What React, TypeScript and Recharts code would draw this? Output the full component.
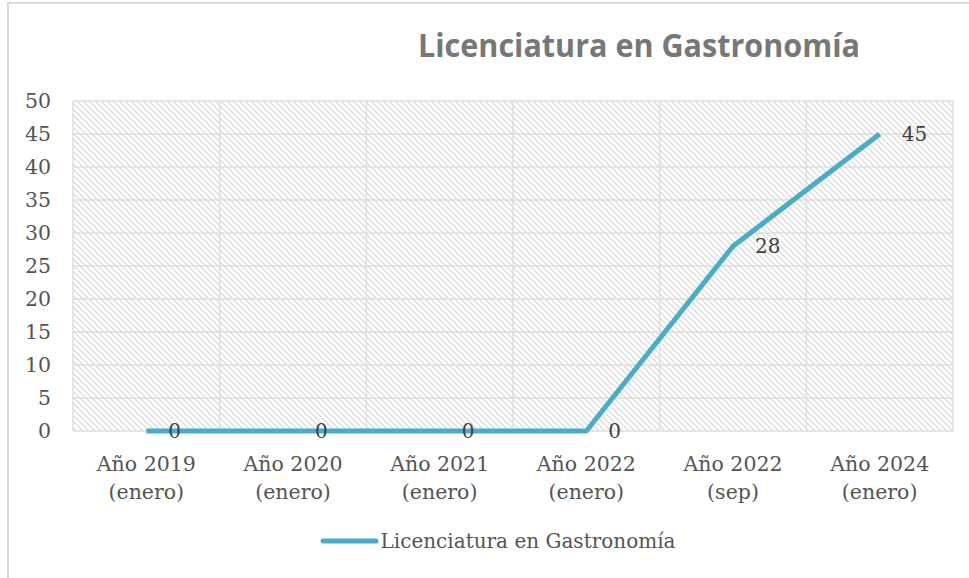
import React from "react";
import {
  LineChart,
  Line,
  XAxis,
  YAxis,
  CartesianGrid,
  Legend,
  LabelList,
} from "recharts";

const categories = [
  "Año 2019 (enero)",
  "Año 2020 (enero)",
  "Año 2021 (enero)",
  "Año 2022 (enero)",
  "Año 2022 (sep)",
  "Año 2024 (enero)",
];
const gastronomia = [0, 0, 0, 0, 28, 45];
const yTicks = [0, 5, 10, 15, 20, 25, 30, 35, 40, 45, 50];
const seriesName = "Licenciatura en Gastronomía";

const chartData = categories.map((name, i) => ({ name, value: gastronomia[i] }));

const SERIF = "'DejaVu Serif', serif";
const LINE_COLOR = "#4BACC6";
const TEXT_COLOR = "#545454";

function XTick({ x, y, payload }: any) {
  const label: string = payload.value;
  const cut = label.indexOf("(");
  const first = label.slice(0, cut).trim();
  const second = label.slice(cut);
  return (
    <text x={x} y={y} textAnchor="middle" fill={TEXT_COLOR} fontSize={20.5} fontFamily={SERIF}>
      <tspan x={x} dy={40}>{first}</tspan>
      <tspan x={x} dy={27.5}>{second}</tspan>
    </text>
  );
}

function LegendContent() {
  return (
    <div
      style={{
        height: 47,
        display: "flex",
        alignItems: "center",
        justifyContent: "center",
        paddingLeft: 42,
        fontFamily: SERIF,
        fontSize: 20,
        color: TEXT_COLOR,
      }}
    >
      <svg width={59} height={10} style={{ marginRight: 2 }}>
        <line x1={3} y1={5} x2={56} y2={5} stroke={LINE_COLOR} strokeWidth={5} strokeLinecap="round" />
      </svg>
      <span>{seriesName}</span>
    </div>
  );
}

// grid lines sit on the category boundaries, not on the points
const bandBoundaries = ({ offset }: any) => {
  const step = offset.width / categories.length;
  return categories.map((_, i) => offset.left + i * step).concat(offset.left + offset.width);
};

export default function App() {
  return (
    <div
      style={{
        position: "fixed",
        left: 0,
        top: 0,
        width: 969,
        height: 578,
        overflow: "hidden",
        background: "#fff",
      }}
    >
      <div
        style={{
          position: "absolute",
          left: 7,
          top: 2,
          width: 1000,
          height: 620,
          border: "2px solid #d9d9d9",
          boxSizing: "border-box",
        }}
      />
      <svg
        width={969}
        height={80}
        style={{ position: "absolute", left: 0, top: 0, zIndex: 2 }}
      >
        <defs>
          <pattern id="hatch" width={6} height={6} patternUnits="userSpaceOnUse">
            <rect width={6} height={6} fill="#ffffff" />
            <path d="M0,0 L6,6 M-1,5 L1,7 M5,-1 L7,1" stroke="#d6d6d6" strokeWidth={1.1} />
          </pattern>
        </defs>
        <text
          x={639}
          y={57}
          textAnchor="middle"
          fill="#777777"
          fontSize={32}
          fontWeight={700}
          fontFamily="'Open Sans', sans-serif"
          textLength={442}
          lengthAdjust="spacingAndGlyphs"
        >
          {seriesName}
        </text>
      </svg>
      <div style={{ position: "absolute", left: 0, top: 0 }}>
        <LineChart
          width={969}
          height={578}
          data={chartData}
          margin={{ top: 101, right: 16, bottom: 14, left: 0 }}
        >
          <CartesianGrid
            stroke="#dedede"
            strokeWidth={1.5}
            fill="url(#hatch)"
            fillOpacity={1}
            verticalCoordinatesGenerator={bandBoundaries}
          />
          <XAxis
            dataKey="name"
            scale="band"
            tick={<XTick />}
            tickLine={false}
            tickSize={0}
            tickMargin={0}
            axisLine={false}
            height={86}
            interval={0}
          />
          <YAxis
            width={73}
            domain={[0, 50]}
            ticks={yTicks}
            axisLine={false}
            tickLine={false}
            tickSize={0}
            tickMargin={22}
            tick={{ fill: TEXT_COLOR, fontSize: 20.5, fontFamily: SERIF }}
          />
          <Legend verticalAlign="bottom" height={47} content={<LegendContent />} />
          <Line
            type="linear"
            dataKey="value"
            name={seriesName}
            stroke={LINE_COLOR}
            strokeWidth={5}
            strokeLinejoin="round"
            dot={false}
            activeDot={false}
            isAnimationActive={false}
          >
            <LabelList
              dataKey="value"
              position="right"
              offset={22}
              fill="#404040"
              fontSize={20}
              fontFamily={SERIF}
            />
          </Line>
        </LineChart>
      </div>
    </div>
  );
}
